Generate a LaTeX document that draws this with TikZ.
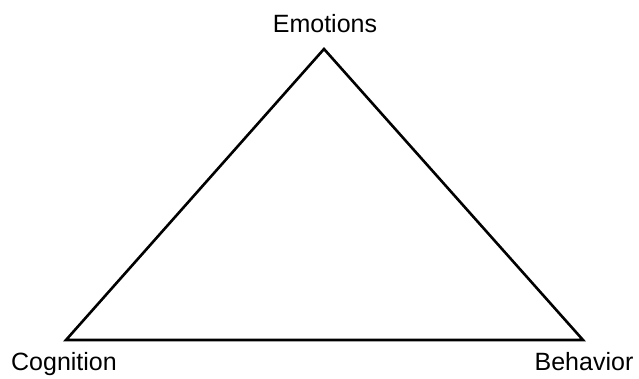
\documentclass[tikz,border=0pt]{standalone}
\usepackage{fontspec}
\setmainfont{Liberation Sans}
\begin{document}
\begin{tikzpicture}[
 x=1pt,y=-1pt,
 every node/.style={font=\fontsize{25}{30}\selectfont},
 lab/.style={anchor=base,inner sep=0pt},
 side/.style={line width=2.6pt,line join=miter}
]
 \useasboundingbox (0,0) rectangle (639,379);

 % vertices of the triangle
 \coordinate (top) at (324,49);
 \coordinate (left) at (66,340);
 \coordinate (right) at (583,340);

 \draw[side] (top) -- (left) -- (right) -- cycle;

 \node[lab] (emotions) at (325,33) {Emotions};
 \node[lab] (cognition) at (64,370) {Cognition};
 \node[lab] (behavior) at (584,370) {Behavior};
\end{tikzpicture}
\end{document}
